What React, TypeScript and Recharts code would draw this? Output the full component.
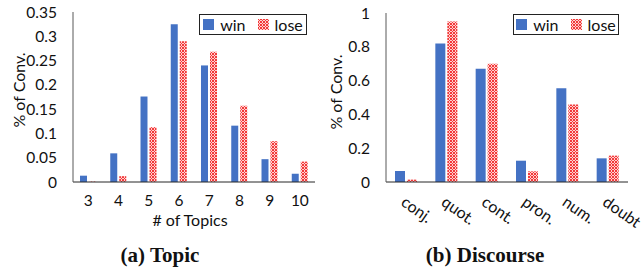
import { BarChart, Bar, XAxis, YAxis, Legend } from 'recharts';

const topicCats = ['3', '4', '5', '6', '7', '8', '9', '10'];
const topicWin = [0.013, 0.059, 0.176, 0.325, 0.24, 0.116, 0.047, 0.017];
const topicLose = [0.001, 0.012, 0.113, 0.29, 0.268, 0.157, 0.084, 0.042];
const topicTicks = [0, 0.05, 0.1, 0.15, 0.2, 0.25, 0.3, 0.35];

const discCats = ['conj.', 'quot.', 'cont.', 'pron.', 'num.', 'doubt'];
const discWin = [0.065, 0.82, 0.67, 0.126, 0.554, 0.14];
const discLose = [0.014, 0.95, 0.7, 0.063, 0.458, 0.156];
const discTicks = [0, 0.2, 0.4, 0.6, 0.8, 1];

const BLUE = '#4472C4';
const FONT = 'Lato, "Open Sans", sans-serif';
const FRAME = '#595959';

const topicData = topicCats.map((c, i) => ({ cat: c, win: topicWin[i], lose: topicLose[i] }));
const discData = discCats.map((c, i) => ({ cat: c, win: discWin[i], lose: discLose[i] }));

function Hatch({ id }: { id: string }) {
  return (
    <defs>
      <pattern id={id} width="3" height="3" patternUnits="userSpaceOnUse">
        <rect width="3" height="3" fill="#ffd0d0" />
        <path d="M0,0 L3,3 M3,0 L0,3" stroke="#f23a3a" strokeWidth="1" />
      </pattern>
    </defs>
  );
}

function LegendBox({ hatchId }: { hatchId: string }) {
  return (
    <div
      style={{
        border: '1px solid #222',
        background: '#fff',
        display: 'flex',
        alignItems: 'center',
        justifyContent: 'center',
        gap: 6,
        height: 19,
        fontFamily: FONT,
        fontSize: 16,
        color: '#111',
      }}
    >
      <svg width="11" height="11">
        <rect width="11" height="11" fill={BLUE} />
      </svg>
      <span style={{ marginRight: 6 }}>win</span>
      <svg width="11" height="11">
        <Hatch id={hatchId + '-lg'} />
        <rect width="11" height="11" fill={`url(#${hatchId}-lg)`} />
      </svg>
      <span>lose</span>
    </div>
  );
}

const yLabel = (cx: number, cy: number) => () => (
  <text
    x={cx}
    y={cy}
    transform={`rotate(-90 ${cx} ${cy})`}
    textAnchor="middle"
    dominantBaseline="central"
    fontFamily={FONT}
    fontSize={16}
    fill="#111"
  >
    % of Conv.
  </text>
);

const RotTick = (props: any) => {
  const { x, y, payload } = props;
  return (
    <text
      x={x - 3}
      y={y}
      dy="0.35em"
      transform={`rotate(35 ${x - 3} ${y})`}
      textAnchor="start"
      fontFamily={FONT}
      fontSize={16}
      fill="#111"
    >
      {payload.value}
    </text>
  );
};

export default function App() {
  const tickStyle = { fontFamily: FONT, fontSize: 15.5, fill: '#111' };
  const caption = {
    position: 'absolute' as const,
    width: 220,
    top: 243,
    textAlign: 'center' as const,
    fontFamily: '"Liberation Serif", serif',
    fontWeight: 'bold' as const,
    fontSize: 21,
    color: '#111',
  };
  return (
    <div style={{ position: 'absolute', left: 0, top: 0, width: 644, height: 271, background: '#fff' }}>
      <div style={{ position: 'absolute', left: 0, top: 0 }}>
        <BarChart width={322} height={230} data={topicData} margin={{ top: 12, right: 7, left: 0, bottom: 0 }} barSize={7} barGap={2}>
          <Hatch id="hatchA" />
          <XAxis
            dataKey="cat"
            height={48}
            tickLine={false}
            tickSize={0}
            tickMargin={13}
            tick={tickStyle}
            stroke="#262626"
            label={() => (
              <text x={190} y={219} textAnchor="middle" dominantBaseline="central" fontFamily={FONT} fontSize={16} fill="#111">
                # of Topics
              </text>
            )}
          />
          <XAxis xAxisId="top" dataKey="cat" orientation="top" height={0} tick={false} tickLine={false} stroke={FRAME} />
          <YAxis
            width={73}
            domain={[0, 0.35]}
            ticks={topicTicks}
            tickLine={false}
            tickSize={0}
            tickMargin={16}
            tick={tickStyle}
            stroke={FRAME}
            label={yLabel(18, 90)}
          />
          <YAxis yAxisId="right" orientation="right" width={0} tick={false} tickLine={false} stroke={FRAME} />
          <Legend
            layout="horizontal"
            verticalAlign="middle"
            wrapperStyle={{ left: 199, top: 14, width: 108 }}
            content={() => <LegendBox hatchId="hatchA" />}
          />
          <Bar dataKey="win" fill={BLUE} isAnimationActive={false} />
          <Bar dataKey="lose" fill="url(#hatchA)" isAnimationActive={false} />
        </BarChart>
      </div>
      <div style={{ position: 'absolute', left: 322, top: 0 }}>
        <BarChart
          width={322}
          height={230}
          data={discData}
          margin={{ top: 13, right: 16, left: 0, bottom: 0 }}
          barSize={10}
          barGap={2}
          style={{ overflow: 'visible' }}
        >
          <Hatch id="hatchB" />
          <XAxis
            dataKey="cat"
            height={48}
            tickLine={false}
            tickSize={0}
            tickMargin={18}
            tick={<RotTick />}
            interval={0}
            stroke="#262626"
          />
          <XAxis xAxisId="top" dataKey="cat" orientation="top" height={0} tick={false} tickLine={false} stroke={FRAME} />
          <YAxis
            width={64}
            domain={[0, 1]}
            ticks={discTicks}
            tickLine={false}
            tickSize={0}
            tickMargin={16}
            tick={tickStyle}
            stroke={FRAME}
            label={yLabel(13, 92)}
          />
          <YAxis yAxisId="right" orientation="right" width={0} tick={false} tickLine={false} stroke={FRAME} />
          <Legend
            layout="horizontal"
            verticalAlign="middle"
            wrapperStyle={{ left: 191, top: 14, width: 106 }}
            content={() => <LegendBox hatchId="hatchB" />}
          />
          <Bar dataKey="win" fill={BLUE} isAnimationActive={false} />
          <Bar dataKey="lose" fill="url(#hatchB)" isAnimationActive={false} />
        </BarChart>
      </div>
      <div style={{ ...caption, left: 50 }}>(a) Topic</div>
      <div style={{ ...caption, left: 375 }}>(b) Discourse</div>
    </div>
  );
}
